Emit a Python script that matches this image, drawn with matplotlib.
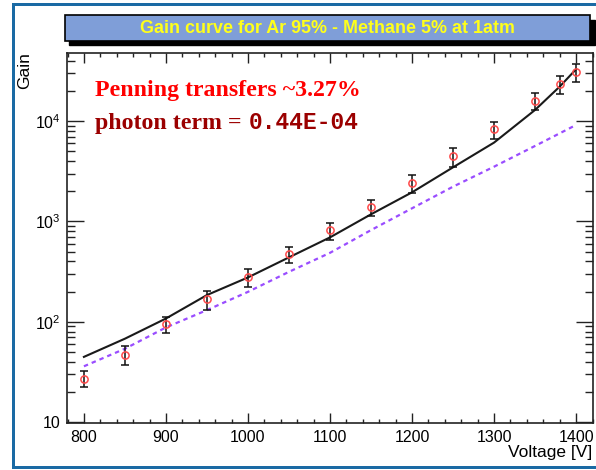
import numpy as np
import matplotlib
matplotlib.use("Agg")
import matplotlib.pyplot as plt
from matplotlib.ticker import LogLocator, FuncFormatter, NullFormatter, MultipleLocator
from matplotlib.patches import Rectangle

# ---------------- data ----------------
voltage = [800, 850, 900, 950, 1000, 1050, 1100, 1150, 1200, 1250, 1300, 1350, 1380, 1400]
gain = [26.9, 46.9, 94.2, 168, 281, 470, 815, 1403, 2415, 4520, 8340, 15850, 23440, 30700]
gain_hi = [32.1, 57.2, 112, 202, 337, 560, 970, 1634, 2904, 5353, 9860, 19200, 28300, 36800]
gain_lo = [22.5, 37.0, 76.6, 131, 223, 382, 653, 1132, 1907, 3510, 6590, 12900, 18600, 24700]

fit_v = [800, 850, 900, 950, 1000, 1050, 1100, 1150, 1200, 1250, 1300, 1350, 1380, 1400]
fit_gain = [44.8, 68, 108, 185, 277, 439, 694, 1178, 1950, 3460, 6100, 12900, 22000, 32800]

photon_v = [800, 850, 900, 950, 1000, 1050, 1100, 1150, 1200, 1250, 1300, 1350, 1400]
photon_gain = [36.1, 54, 88, 131, 199, 315, 487, 820, 1352, 2220, 3510, 5650, 9140]

title = "Gain curve for Ar 95% - Methane 5% at 1atm"
xlabel = "Voltage [V]"
ylabel = "Gain"
note1 = "Penning transfers ~3.27%"
note2a = "photon term = "
note2b = "0.44E-04"

# ---------------- figure ----------------
W, H = 596, 470
fig = plt.figure(figsize=(W / 100, H / 100), dpi=100)
fig.patch.set_facecolor("white")
plt.rcParams["mathtext.fontset"] = "custom"
plt.rcParams["mathtext.rm"] = "Liberation Sans"


def fx(px):
    return px / W


def fy(py):
    return 1 - py / H


# slide border (blue lines)
border = "#1a6aa4"
fig.add_artist(Rectangle((fx(11.5), fy(5.5)), fx(596 - 11.5) + 0.01, 3 / H, transform=fig.transFigure,
                         facecolor=border, edgecolor="none"))
fig.add_artist(Rectangle((fx(11.5), fy(469)), 3.5 / W, (469 - 2.5) / H, transform=fig.transFigure,
                         facecolor=border, edgecolor="none"))
fig.add_artist(Rectangle((fx(11.5), fy(469)), fx(596 - 11.5) + 0.01, 3.5 / H, transform=fig.transFigure,
                         facecolor=border, edgecolor="none"))

# axes
left, right, top, bottom = 66.7, 592.5, 52.7, 423.3
ax = fig.add_axes([fx(left), fy(bottom), (right - left) / W, (bottom - top) / H])
ax.set_yscale("log")
ax.set_xlim(779, 1420)
ax.set_ylim(9.77, 47900)

# curves
ax.plot(fit_v, fit_gain, color="#1a1a1a", lw=1.5, zorder=3)
ax.plot(photon_v, photon_gain, color="#9a4dff", lw=1.6, dashes=(2.0, 1.8), zorder=3)

g = np.array(gain)
yerr = np.vstack([g - np.array(gain_lo), np.array(gain_hi) - g])
ax.errorbar(voltage, gain, yerr=yerr, fmt="none", ecolor="#111111", elinewidth=1.1,
            capsize=3.0, capthick=1.1, zorder=4)
ax.plot(voltage, gain, linestyle="none", marker="o", markersize=5.2, markerfacecolor="none",
        markeredgecolor="#ff4a4a", markeredgewidth=1.1, zorder=5)

# ticks
ax.xaxis.set_major_locator(MultipleLocator(100))
ax.xaxis.set_minor_locator(MultipleLocator(20))
ax.yaxis.set_major_locator(LogLocator(base=10, numticks=10))
ax.yaxis.set_minor_locator(LogLocator(base=10, subs=np.arange(2, 10), numticks=20))
ax.yaxis.set_minor_formatter(NullFormatter())


def yfmt(v, pos):
    e = int(round(np.log10(v)))
    if e == 1:
        return "10"
    return r"$\mathregular{10^{%d}}$" % e


ax.yaxis.set_major_formatter(FuncFormatter(yfmt))

ax.tick_params(axis="both", which="both", direction="in", top=True, right=True, colors="#222222")
ax.tick_params(axis="x", which="major", length=7.2, width=1.0, pad=4.5, labelsize=11.5)
ax.tick_params(axis="x", which="minor", length=3.2, width=1.0)
ax.tick_params(axis="y", which="major", length=12, width=1.0, pad=4.5, labelsize=11.5)
ax.tick_params(axis="y", which="minor", length=6, width=1.0)
for lab in ax.get_xticklabels() + ax.get_yticklabels():
    lab.set_fontfamily("Liberation Sans")
    lab.set_color("black")
for s in ax.spines.values():
    s.set_linewidth(1.2)
    s.set_color("#222222")

# axis labels
fig.text(fx(592.5), fy(456.5), xlabel, ha="right", va="baseline", fontsize=12.5,
         family="Liberation Sans", color="black")
fig.text(fx(25), fy(52), ylabel, ha="center", va="top", rotation=90, fontsize=12.5,
         family="Liberation Sans", color="black")

# title box with shadow
bx0, bx1, by0, by1 = 64.5, 590, 15.5, 40.5
sh = 4.5
fig.add_artist(Rectangle((fx(bx0 + sh), fy(by1 + sh)), (bx1 - bx0) / W, (by1 - by0) / H,
                         transform=fig.transFigure, facecolor="black", edgecolor="black", lw=1, zorder=5))
fig.add_artist(Rectangle((fx(bx0), fy(by1)), (bx1 - bx0) / W, (by1 - by0) / H,
                         transform=fig.transFigure, facecolor="#7f9ed8", edgecolor="black", lw=1.2, zorder=6))
fig.text(fx((bx0 + bx1) / 2), fy((by0 + by1) / 2 + 0.5), title, ha="center", va="center",
         fontsize=12.9, fontweight="bold", family="Liberation Sans", color="#ffff1a", zorder=7)

# annotations
fig.text(fx(95), fy(96), note1, ha="left", va="baseline", fontsize=17.2, fontweight="bold",
         family="Liberation Serif", color="#ff0000")
fig.text(fx(95), fy(129), note2a, ha="left", va="baseline", fontsize=17.2, fontweight="bold",
         family="Liberation Serif", color="#9b0000")
fig.text(fx(249), fy(129), note2b, ha="left", va="baseline", fontsize=16.5, fontweight="bold",
         family="Liberation Mono", color="#9b0000")

fig.savefig("out.png", dpi=100)
